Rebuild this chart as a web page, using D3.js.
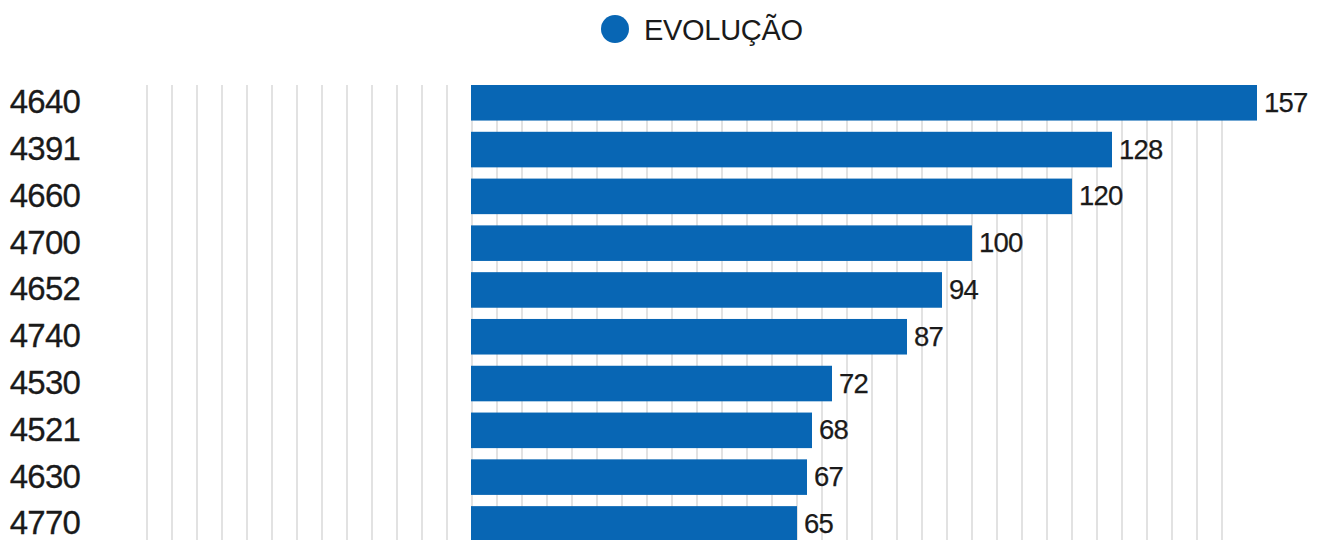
<!DOCTYPE html>
<html>
<head>
<meta charset="utf-8">
<script src="https://cdn.jsdelivr.net/npm/d3@7"></script>
<style>
  html, body { margin: 0; padding: 0; background: #fff; }
  svg { display: block; }
  text { font-family: "Liberation Sans", Arial, Helvetica, sans-serif; fill: #1a1a1a; }
</style>
</head>
<body>
<svg id="chart" width="1319" height="540"></svg>
<script>
const categories = ["4640", "4391", "4660", "4700", "4652", "4740", "4530", "4521", "4630", "4770"];
const values = [157, 128, 120, 100, 94, 87, 72, 68, 67, 65];
const seriesName = "EVOLUÇÃO";
const gridTicks = d3.range(-65, 151, 5);

const W = 1319, H = 540;
const color = "#0866b4";
const svg = d3.select("#chart");

const x = d3.scaleLinear().domain([-65, 150]).range([147, 1222]);
const y = d3.scaleBand().domain(categories).range([85, 541.7]).paddingInner(0.24).paddingOuter(0);

// gridlines
svg.append("g").selectAll("line").data(gridTicks).join("line")
  .attr("x1", d => x(d)).attr("x2", d => x(d))
  .attr("y1", 85).attr("y2", H)
  .attr("stroke", "#d9d9d9").attr("stroke-width", 1.5);

// bars
svg.append("g").selectAll("rect").data(values).join("rect")
  .attr("x", x(0) - 1)
  .attr("y", (d, i) => y(categories[i]))
  .attr("width", d => x(d) - x(0) + 1)
  .attr("height", y.bandwidth())
  .attr("fill", color);

// category labels
svg.append("g").selectAll("text").data(categories).join("text")
  .attr("x", 80)
  .attr("y", d => y(d) + y.bandwidth() / 2 + 10.5)
  .attr("text-anchor", "end")
  .attr("font-size", 33)
  .attr("letter-spacing", -0.8)
  .attr("stroke", "#1a1a1a").attr("stroke-width", 0.3)
  .text(d => d);

// value labels
svg.append("g").selectAll("text").data(values).join("text")
  .attr("x", d => x(d) + 7)
  .attr("y", (d, i) => y(categories[i]) + y.bandwidth() / 2 + 9)
  .attr("font-size", 27.5)
  .attr("letter-spacing", -0.8)
  .attr("stroke", "#1a1a1a").attr("stroke-width", 0.25)
  .text(d => d);

// legend
const lg = svg.append("g");
lg.append("circle").attr("cx", 615).attr("cy", 29).attr("r", 14).attr("fill", color);
lg.append("text").attr("x", 644).attr("y", 40).attr("font-size", 29).attr("letter-spacing", -0.3).text(seriesName);
</script>
</body>
</html>
